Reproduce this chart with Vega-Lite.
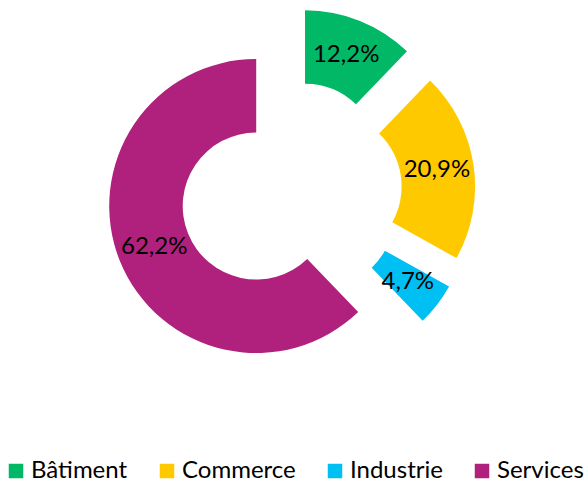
{
  "$schema": "https://vega.github.io/schema/vega-lite/v6.json",
  "width": 582,
  "height": 384,
  "autosize": "none",
  "padding": {"left": 0, "top": 0, "right": 4, "bottom": 98},
  "background": "white",
  "config": {
    "view": {"stroke": null},
    "font": "Lato",
    "locale": {
      "number": {"decimal": ",", "thousands": " ", "grouping": [3], "currency": ["", " €"], "percent": "%"}
    }
  },
  "data": {
    "values": [
      {"secteur": "Bâtiment", "part": 0.122},
      {"secteur": "Commerce", "part": 0.209},
      {"secteur": "Industrie", "part": 0.047},
      {"secteur": "Services", "part": 0.622}
    ]
  },
  "encoding": {
    "theta": {"field": "part", "type": "quantitative", "stack": true},
    "order": {"field": "secteur", "type": "nominal", "sort": "ascending"}
  },
  "layer": [
    {
      "mark": {
        "type": "arc",
        "radius": 147,
        "radius2": 73.5,
        "xOffset": {"expr": "37.5*sin(PI*(datum.part_start+datum.part_end))"},
        "yOffset": {"expr": "-37.5*cos(PI*(datum.part_start+datum.part_end))"}
      },
      "encoding": {
        "color": {
          "field": "secteur",
          "type": "nominal",
          "scale": {
            "domain": ["Bâtiment", "Commerce", "Industrie", "Services"],
            "range": ["#00B865", "#FFC900", "#00BFF2", "#B0217D"]
          },
          "legend": {
            "title": null,
            "orient": "none",
            "direction": "horizontal",
            "legendX": 4,
            "legendY": 459,
            "padding": 0,
            "symbolType": "square",
            "symbolSize": 210,
            "symbolStrokeWidth": 0,
            "labelFont": "Lato",
            "labelFontSize": 24,
            "labelColor": "black",
            "labelOffset": 3,
            "columnPadding": 27
          }
        }
      }
    },
    {
      "mark": {
        "type": "text",
        "radius": 110,
        "fontSize": 24,
        "color": "black",
        "xOffset": {"expr": "37.5*sin(PI*(datum.part_start+datum.part_end))"},
        "yOffset": {"expr": "-37.5*cos(PI*(datum.part_start+datum.part_end))"}
      },
      "encoding": {
        "detail": {"field": "secteur", "type": "nominal"},
        "text": {"field": "part", "type": "quantitative", "format": ".1%"}
      }
    }
  ]
}
